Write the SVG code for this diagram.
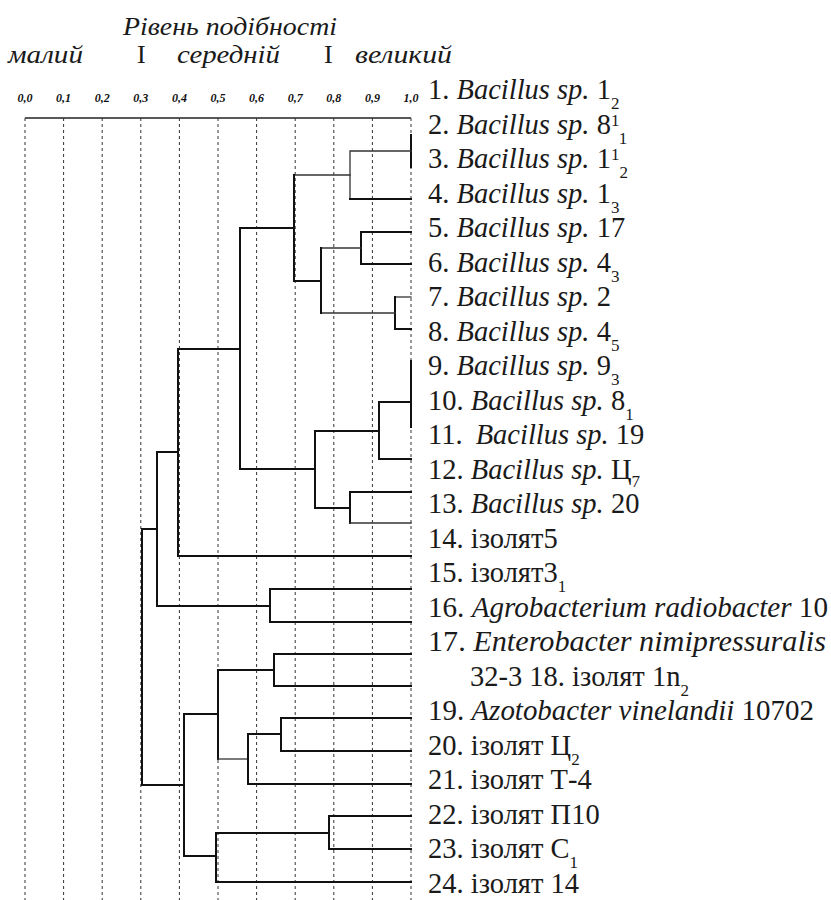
<svg xmlns="http://www.w3.org/2000/svg" width="831" height="900" viewBox="0 0 831 900" font-family="'Liberation Serif','Times New Roman',serif">
<style>
.t{font-family:'Liberation Serif','Times New Roman',serif;font-size:28.5px;fill:#1a1a1a}
.i{font-style:italic}
.s{font-size:17px}
.h{font-family:'Liberation Serif','Times New Roman',serif;font-size:26px;fill:#1a1a1a}
.sc{font-family:'Liberation Serif','Times New Roman',serif;font-size:12px;font-weight:bold;font-style:italic;fill:#111;text-anchor:middle}
.g{stroke:#333;stroke-width:1;stroke-dasharray:3,3;fill:none}
.ln{stroke:#111;stroke-width:2;fill:none;stroke-linecap:square}
.lt{stroke:#333;stroke-width:1.3;fill:none;stroke-linecap:square}
</style>
<rect width="831" height="900" fill="#fff"/>
<g id="header">
<text class="h i" x="123" y="35" textLength="214" lengthAdjust="spacingAndGlyphs">Рівень подібності</text>
<text class="h i" x="8" y="63" textLength="75" lengthAdjust="spacingAndGlyphs">малий</text>
<text class="h" x="137" y="63">I</text>
<text class="h i" x="177" y="63" textLength="103" lengthAdjust="spacingAndGlyphs">середній</text>
<text class="h" x="324" y="63">I</text>
<text class="h i" x="355" y="63" textLength="97" lengthAdjust="spacingAndGlyphs">великий</text>
</g>
<g id="scale">
<text class="sc" x="25" y="102">0,0</text>
<text class="sc" x="63.6" y="102">0,1</text>
<text class="sc" x="102.2" y="102">0,2</text>
<text class="sc" x="140.8" y="102">0,3</text>
<text class="sc" x="179.4" y="102">0,4</text>
<text class="sc" x="218" y="102">0,5</text>
<text class="sc" x="256.6" y="102">0,6</text>
<text class="sc" x="295.2" y="102">0,7</text>
<text class="sc" x="333.8" y="102">0,8</text>
<text class="sc" x="372.4" y="102">0,9</text>
<text class="sc" x="411" y="102">1,0</text>
<line x1="25" y1="118" x2="411" y2="118" stroke="#222" stroke-width="1.3"/>
<path class="g" d="M25 118V900M63.6 118V900M102.2 118V900M140.8 118V900M179.4 118V900M218 118V900M256.6 118V900M295.2 118V900M333.8 118V900M372.4 118V900M411 118V900"/>
</g>
<g id="connectors">
<path class="ln" d="M411 135V167"/>
<path class="lt" d="M411 151H350V199"/>
<path class="ln" d="M350 199H411"/>
<path class="lt" d="M350 175H294"/>
<path class="ln" d="M411 232H361V264H411"/>
<path class="lt" d="M361 248H321"/>
<path class="lt" d="M411 297H395"/>
<path class="ln" d="M395 297V329H411"/>
<path class="lt" d="M395 313H321"/>
<path class="ln" d="M321 248V313"/>
<path class="ln" d="M321 281H294V175"/>
<path class="ln" d="M294 228H240"/>
<path class="ln" d="M411 361V427"/>
<path class="ln" d="M411 402H379V459H411"/>
<path class="ln" d="M379 431H315V508H350"/>
<path class="ln" d="M411 492H350V523"/>
<path class="lt" d="M350 523H411"/>
<path class="ln" d="M315 469H240V228"/>
<path class="ln" d="M240 349H178V556H411"/>
<path class="ln" d="M178 452H157V606H270"/>
<path class="ln" d="M411 589H270V622H411"/>
<path class="ln" d="M157 529H142V785H184"/>
<path class="ln" d="M411 654H274V686H411"/>
<path class="ln" d="M274 670H218V759"/>
<path class="lt" d="M218 759H248"/>
<path class="ln" d="M411 718H281"/>
<path class="ln" d="M281 718V751H411"/>
<path class="ln" d="M281 734H248V784H411"/>
<path class="ln" d="M218 714H184V856H216"/>
<path class="ln" d="M411 816H329V849H411"/>
<path class="ln" d="M329 833H216V882H411"/>
</g>
<g id="leaf1"><text class="t" x="428" y="99">1. <tspan class="i">Bacillus sp.</tspan> 1<tspan class="s" dy="10">2</tspan></text></g>
<g id="leaf2"><text class="t" x="428" y="134">2. <tspan class="i">Bacillus sp.</tspan> 8<tspan class="s" dy="-8">1</tspan><tspan class="s" dy="18">1</tspan></text></g>
<g id="leaf3"><text class="t" x="428" y="168">3. <tspan class="i">Bacillus sp.</tspan> 1<tspan class="s" dy="-8">1</tspan><tspan class="s" dy="18">2</tspan></text></g>
<g id="leaf4"><text class="t" x="428" y="203">4. <tspan class="i">Bacillus sp.</tspan> 1<tspan class="s" dy="10">3</tspan></text></g>
<g id="leaf5"><text class="t" x="428" y="237">5. <tspan class="i">Bacillus sp.</tspan> 17</text></g>
<g id="leaf6"><text class="t" x="428" y="272">6. <tspan class="i">Bacillus sp.</tspan> 4<tspan class="s" dy="10">3</tspan></text></g>
<g id="leaf7"><text class="t" x="428" y="306">7. <tspan class="i">Bacillus sp.</tspan> 2</text></g>
<g id="leaf8"><text class="t" x="428" y="341">8. <tspan class="i">Bacillus sp.</tspan> 4<tspan class="s" dy="10">5</tspan></text></g>
<g id="leaf9"><text class="t" x="428" y="375">9. <tspan class="i">Bacillus sp.</tspan> 9<tspan class="s" dy="10">3</tspan></text></g>
<g id="leaf10"><text class="t" x="428" y="410">10. <tspan class="i">Bacillus sp.</tspan> 8<tspan class="s" dy="10">1</tspan></text></g>
<g id="leaf11"><text class="t" x="428" y="444">11. <tspan class="i" dx="6">Bacillus sp.</tspan> 19</text></g>
<g id="leaf12"><text class="t" x="428" y="479">12. <tspan class="i">Bacillus sp.</tspan> Ц<tspan class="s" dy="8">7</tspan></text></g>
<g id="leaf13"><text class="t" x="428" y="513">13. <tspan class="i">Bacillus sp.</tspan> 20</text></g>
<g id="leaf14"><text class="t" x="428" y="548">14. ізолят5</text></g>
<g id="leaf15"><text class="t" x="428" y="582">15. ізолят3<tspan class="s" dy="10">1</tspan></text></g>
<g id="leaf16"><text class="t" x="428" y="617" textLength="400" lengthAdjust="spacingAndGlyphs">16. <tspan class="i">Agrobacterium radiobacter</tspan> 10</text></g>
<g id="leaf17"><text class="t" x="428" y="651" textLength="398" lengthAdjust="spacingAndGlyphs">17. <tspan class="i">Enterobacter nimipressuralis</tspan></text></g>
<g id="leaf18"><text class="t" x="470" y="686">32-3 18. ізолят 1n<tspan class="s" dy="10">2</tspan></text></g>
<g id="leaf19"><text class="t" x="428" y="720" textLength="386" lengthAdjust="spacingAndGlyphs">19. <tspan class="i">Azotobacter vinelandii</tspan> 10702</text></g>
<g id="leaf20"><text class="t" x="428" y="755">20. ізолят Ц<tspan class="s" dy="10">2</tspan></text></g>
<g id="leaf21"><text class="t" x="428" y="789">21. ізолят Т-4</text></g>
<g id="leaf22"><text class="t" x="428" y="824">22. ізолят П10</text></g>
<g id="leaf23"><text class="t" x="428" y="858">23. ізолят С<tspan class="s" dy="10">1</tspan></text></g>
<g id="leaf24"><text class="t" x="428" y="893">24. ізолят 14</text></g>
</svg>
